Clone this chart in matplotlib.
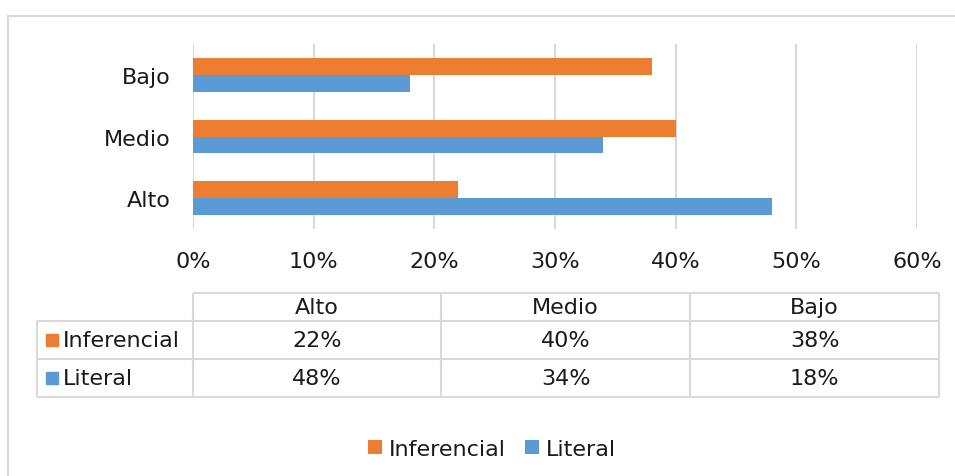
import matplotlib
matplotlib.use("Agg")
import matplotlib.pyplot as plt
from matplotlib.patches import Rectangle

# Data
categories = ["Alto", "Medio", "Bajo"]
series_names = ["Inferencial", "Literal"]
inferencial = [22, 40, 38]
literal = [48, 34, 18]
x_ticks = [0, 10, 20, 30, 40, 50, 60]

ORANGE = "#ED7D31"
BLUE = "#5B9BD5"
GRID = "#D9D9D9"
TEXT = "#1a1a1a"
FONT = 16

plt.rcParams["font.family"] = ["DejaVu Sans"]
plt.rcParams["text.color"] = TEXT

W, H = 955, 477
fig = plt.figure(figsize=(W / 100, H / 100), dpi=100)


def px(x0, y0, x1, y1):
    # pixel box (top-left origin) -> figure fraction rect
    return [x0 / W, 1 - y1 / H, (x1 - x0) / W, (y1 - y0) / H]


# overlay in pixel coords for border, table and keys
ov = fig.add_axes([0, 0, 1, 1])
ov.set_xlim(0, W)
ov.set_ylim(H, 0)
ov.axis("off")

# chart border (top and left edges visible)
ov.plot([7.5, W], [16.5, 16.5], color=GRID, lw=1.5)
ov.plot([7.5, 7.5], [16.5, H], color=GRID, lw=1.5)

# bar chart
ax = fig.add_axes(px(193, 45, 917, 230))
bh = 0.274
ypos = list(range(len(categories)))
b_inf = ax.barh([y + bh / 2 for y in ypos], inferencial, height=bh, color=ORANGE,
                label=series_names[0], zorder=3)
b_lit = ax.barh([y - bh / 2 for y in ypos], literal, height=bh, color=BLUE,
                label=series_names[1], zorder=3)
ax.set_xlim(0, 60)
ax.set_ylim(-0.5, 2.5)
ax.set_xticks(x_ticks)
ax.set_xticklabels([f"{t}%" for t in x_ticks])
ax.set_yticks(ypos)
ax.set_yticklabels(categories)
ax.grid(axis="x", color=GRID, lw=1.5, zorder=0)
for s in ax.spines.values():
    s.set_visible(False)
ax.tick_params(length=0, labelsize=FONT, labelcolor=TEXT)
ax.tick_params(axis="x", pad=16)
ax.tick_params(axis="y", pad=16)
ax.set_facecolor("none")

# data table below the chart
col_x = [193, 441, 690, 939]
row_y = [294, 322, 360, 398]
label_x0 = 37
tkw = dict(color=GRID, lw=1.5, solid_capstyle="butt")
ov.plot([col_x[0], col_x[-1]], [row_y[0]] * 2, **tkw)
for y in row_y[1:]:
    ov.plot([label_x0, col_x[-1]], [y, y], **tkw)
for x in col_x:
    ov.plot([x, x], [row_y[0], row_y[-1]], **tkw)
ov.plot([label_x0, label_x0], [row_y[1], row_y[-1]], **tkw)

for i, cat in enumerate(categories):
    cx = (col_x[i] + col_x[i + 1]) / 2
    ov.text(cx, (row_y[0] + row_y[1]) / 2, cat, ha="center", va="center", fontsize=FONT)
    ov.text(cx, (row_y[1] + row_y[2]) / 2, f"{inferencial[i]}%", ha="center", va="center",
            fontsize=FONT)
    ov.text(cx, (row_y[2] + row_y[3]) / 2, f"{literal[i]}%", ha="center", va="center",
            fontsize=FONT)

for r, (name, color) in enumerate(zip(series_names, [ORANGE, BLUE])):
    cy = (row_y[r + 1] + row_y[r + 2]) / 2
    ov.add_patch(Rectangle((46, cy - 6), 12, 12, color=color))
    ov.text(63, cy, name, ha="left", va="center", fontsize=FONT)

# legend
fig.legend(handles=[b_inf, b_lit], loc="center", bbox_to_anchor=(492 / W, 1 - 450 / H),
           ncol=2, frameon=False, fontsize=FONT, handlelength=0.6, handleheight=0.6,
           handletextpad=0.3, columnspacing=0.9)

fig.savefig("out.png", dpi=100)
